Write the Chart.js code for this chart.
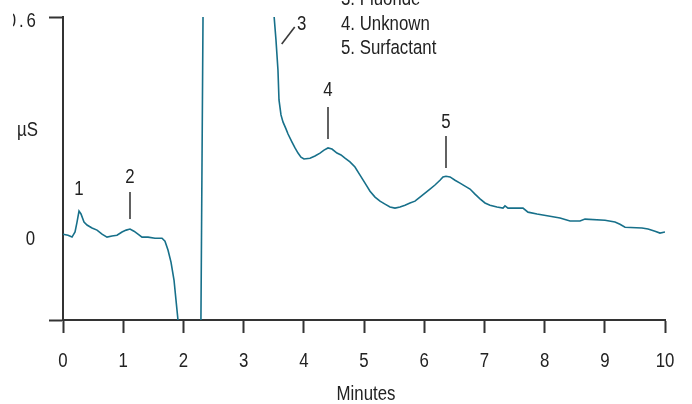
<!DOCTYPE html>
<html>
<head>
<meta charset="utf-8">
<script src="https://cdn.jsdelivr.net/npm/chart.js@4.4.1/dist/chart.umd.min.js"></script>
<style>
  html, body { margin: 0; padding: 0; background: #fff; }
  #wrap { width: 692px; height: 404px; overflow: hidden; }
</style>
</head>
<body>
<div id="wrap"><canvas id="myChart" width="692" height="404"></canvas></div>
<script>
// retention time (minutes)
const times = [0, 0.083, 0.15, 0.2, 0.233, 0.266, 0.299, 0.349, 0.399, 0.482, 0.565, 0.648, 0.731, 0.814, 0.897, 0.98, 1.05, 1.113, 1.179, 1.246, 1.312, 1.412, 1.528, 1.645, 1.694, 1.744, 1.794, 1.844, 1.877, 1.91, 1.96, 2.1, 2.25, 2.29, 2.33, 2.45, 2.7, 3.0, 3.3, 3.45, 3.505, 3.538, 3.571, 3.588, 3.621, 3.654, 3.704, 3.738, 3.804, 3.854, 3.904, 3.953, 4.003, 4.103, 4.186, 4.269, 4.336, 4.402, 4.468, 4.551, 4.618, 4.684, 4.767, 4.85, 4.934, 5.017, 5.1, 5.183, 5.266, 5.349, 5.432, 5.515, 5.598, 5.681, 5.764, 5.847, 5.93, 6.013, 6.096, 6.179, 6.262, 6.312, 6.362, 6.429, 6.512, 6.595, 6.678, 6.761, 6.844, 6.927, 7.01, 7.093, 7.209, 7.309, 7.342, 7.392, 7.508, 7.641, 7.724, 7.874, 8.09, 8.256, 8.422, 8.588, 8.671, 9.003, 9.169, 9.252, 9.336, 9.618, 9.718, 9.834, 9.917, 10];
// conductivity (µS)
const signal = [0.008, 0.005, 0.000, 0.014, 0.041, 0.071, 0.063, 0.041, 0.033, 0.025, 0.019, 0.008, 0.000, 0.003, 0.005, 0.014, 0.019, 0.022, 0.016, 0.008, 0.000, 0.000, -0.003, -0.003, -0.011, -0.035, -0.068, -0.117, -0.172, -0.226, -0.4, -0.55, -0.55, -0.25, 0.7, 1.6, 2.2, 1.8, 1.1, 0.78, 0.605, 0.537, 0.455, 0.374, 0.333, 0.314, 0.295, 0.281, 0.259, 0.243, 0.229, 0.218, 0.213, 0.215, 0.221, 0.229, 0.237, 0.243, 0.240, 0.229, 0.224, 0.215, 0.205, 0.191, 0.169, 0.147, 0.125, 0.109, 0.098, 0.090, 0.082, 0.079, 0.082, 0.087, 0.093, 0.098, 0.109, 0.120, 0.131, 0.142, 0.155, 0.164, 0.166, 0.164, 0.155, 0.147, 0.139, 0.131, 0.117, 0.104, 0.093, 0.087, 0.082, 0.079, 0.085, 0.079, 0.079, 0.079, 0.068, 0.063, 0.057, 0.052, 0.044, 0.044, 0.049, 0.046, 0.041, 0.035, 0.027, 0.025, 0.022, 0.016, 0.011, 0.014];

const xTicks = [0, 1, 2, 3, 4, 5, 6, 7, 8, 9, 10];
const yTicks = [-0.226, 0, 0.6];
const yTickLabels = ['', '0', '0.6'];

const peakNames = ['1', '2', '3', '4', '5'];
const peakTimes = [0.266, 1.113, 3.6, 4.402, 6.362];
const legendItems = ['3. Fluoride', '4. Unknown', '5. Surfactant'];

const FONT = "20.5px 'Liberation Sans', Arial, sans-serif";
const SQUEEZE = 0.82;   // condensed look
const AXIS = '#333';
const TRACE = '#17708a';

const points = times.map((t, i) => ({ x: t, y: signal[i] }));

function txt(ctx, s, x, y, align, spacing) {
  ctx.save();
  ctx.translate(x, y);
  ctx.scale(SQUEEZE, 1);
  ctx.textAlign = align;
  if (spacing) ctx.letterSpacing = spacing;
  ctx.fillText(s, 0, 0);
  ctx.restore();
}

// tick labels, titles, peak markers and legend text
const notes = {
  id: 'notes',
  afterDraw(chart) {
    const ctx = chart.ctx;
    const xs = chart.scales.x, ys = chart.scales.y;
    ctx.save();
    ctx.font = FONT;
    ctx.fillStyle = '#222';
    ctx.textBaseline = 'alphabetic';

    xTicks.forEach(v => txt(ctx, String(v), xs.getPixelForValue(v), 367, 'center'));
    txt(ctx, yTickLabels[1], 35, ys.getPixelForValue(yTicks[1]) + 7.5, 'right');
    // top label is cut off on the left in the original
    ctx.save();
    ctx.beginPath();
    ctx.rect(13, 0, 50, 60);
    ctx.clip();
    txt(ctx, yTickLabels[2], 38.7, ys.getPixelForValue(yTicks[2]) + 9.5, 'right', '3.5px');
    ctx.restore();

    txt(ctx, 'µS', 17, 136, 'left');
    txt(ctx, 'Minutes', 366, 400, 'center');
    legendItems.forEach((t, i) => txt(ctx, t, 341, 5 + i * 24.5, 'left'));

    ctx.strokeStyle = '#3a3a3a';
    ctx.lineWidth = 1.6;
    // peak 1: label only
    txt(ctx, peakNames[0], xs.getPixelForValue(peakTimes[0]), 195, 'center');
    // peaks 2, 4, 5: label + vertical marker
    [[1, 183, 192, 219], [3, 96, 107, 139], [4, 128, 136, 168]].forEach(([i, base, y0, y1]) => {
      const px = Math.round(xs.getPixelForValue(peakTimes[i]));
      txt(ctx, peakNames[i], px, base, 'center');
      ctx.beginPath();
      ctx.moveTo(px, y0);
      ctx.lineTo(px, y1);
      ctx.stroke();
    });
    // peak 3: slanted marker
    const p3 = xs.getPixelForValue(peakTimes[2]);
    ctx.beginPath();
    ctx.moveTo(p3 + 2, 44);
    ctx.lineTo(p3 + 15, 27);
    ctx.stroke();
    txt(ctx, peakNames[2], p3 + 22, 30, 'center');
    ctx.restore();
  }
};

new Chart(document.getElementById('myChart'), {
  type: 'line',
  data: {
    datasets: [{
      data: points,
      borderColor: TRACE,
      borderWidth: 1.6,
      pointRadius: 0,
      tension: 0,
      fill: false
    }]
  },
  options: {
    responsive: false,
    animation: false,
    devicePixelRatio: 1,
    layout: { padding: { top: 17, right: 27, left: 0, bottom: 0 } },
    plugins: { legend: { display: false }, tooltip: { enabled: false } },
    scales: {
      x: {
        type: 'linear',
        min: 0,
        max: 10,
        afterBuildTicks: s => { s.ticks = xTicks.map(v => ({ value: v })); },
        afterFit: s => { s.height = 84; s.paddingLeft = 0; s.paddingRight = 0; },
        ticks: { display: false },
        grid: { drawOnChartArea: false, drawTicks: true, tickLength: 13, tickWidth: 2, tickColor: AXIS },
        border: { display: true, color: AXIS, width: 2 }
      },
      y: {
        type: 'linear',
        min: yTicks[0],
        max: yTicks[2],
        afterBuildTicks: s => { s.ticks = yTicks.map(v => ({ value: v })); },
        afterFit: s => { s.width = 63; s.paddingTop = 0; s.paddingBottom = 0; },
        ticks: { display: false },
        grid: {
          drawOnChartArea: false,
          drawTicks: true,
          tickLength: 14,
          tickWidth: 2,
          tickColor: c => (c.tick && c.tick.value === 0) ? 'rgba(0,0,0,0)' : AXIS
        },
        border: { display: true, color: AXIS, width: 2 }
      }
    }
  },
  plugins: [notes]
});
</script>
</body>
</html>
